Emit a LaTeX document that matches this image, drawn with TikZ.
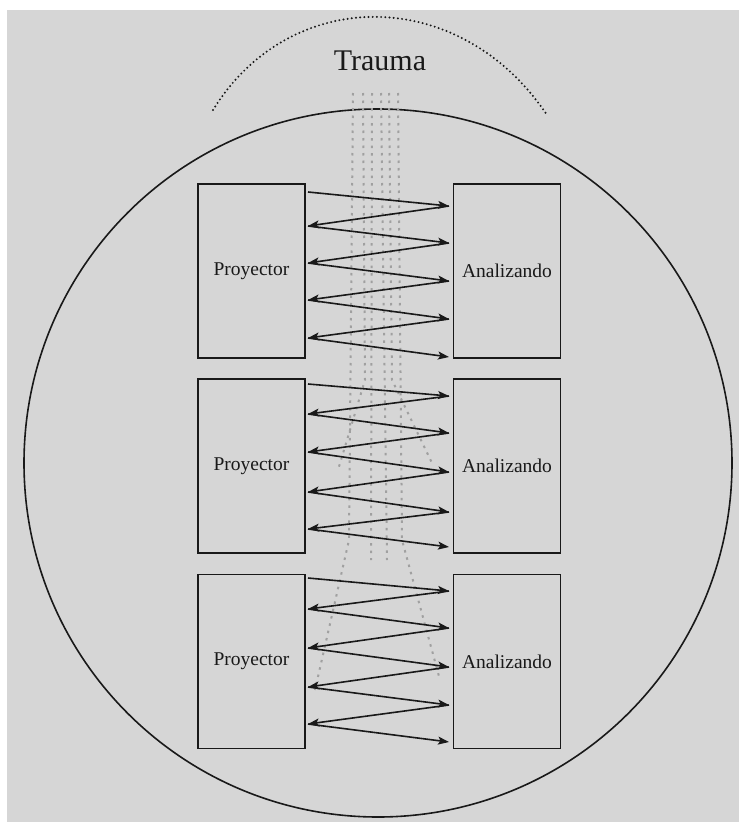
\documentclass[tikz,border=0pt]{standalone}
\usepackage{fontspec}
\setmainfont{Liberation Serif}
\usetikzlibrary{arrows.meta}
\definecolor{bggray}{RGB}{214,214,214}
\definecolor{raygray}{RGB}{160,160,160}
\definecolor{inkc}{RGB}{25,25,25}
\begin{document}
\begin{tikzpicture}[x=1pt,y=-1pt,
  box/.style={draw=inkc, line width=1.6pt, fill=bggray, minimum width=107pt,
    minimum height=174pt, inner sep=0pt, text=inkc, font=\fontsize{19.5}{21}\selectfont},
  zig/.style={draw=inkc, line width=1.6pt, -{Stealth[length=11pt,width=8pt,inset=2.5pt]}},
  ray/.style={raygray, line width=2pt, dash pattern=on 2.5pt off 5pt},
  dotarc/.style={inkc, line width=2.2pt, line cap=round, dash pattern=on 0pt off 4.2pt},
  ring/.style={draw=inkc, line width=1.6pt}]
\useasboundingbox (0,0) rectangle (739,822);
\fill[bggray] (7,10) rectangle (739,822);
% big circle
\draw[ring] (378,463) circle [x radius=354pt, y radius=354pt];
% dotted arc above
\coordinate (arcL) at (213,110);
\coordinate (arcR) at (547,115);
\draw[dotarc] (arcL) .. controls (290,-15) and (460,-15) .. (arcR);
\node[anchor=base, text=inkc, font=\fontsize{30}{32}\selectfont] (trauma) at (380,70) {Trauma};
% faint rays
\draw[ray] (353,93) -- (349,540) -- (315,690);
\draw[ray] (363,93) -- (365,380) -- (338,470);
\draw[ray] (372,93) -- (371,560);
\draw[ray] (381,93) -- (387,560);
\draw[ray] (389,93) -- (392,380) -- (433,465);
\draw[ray] (398,93) -- (402,540) -- (440,680);
% boxes
\node[box] (P1) at (251.5,271) {Proyector};
\node[box] (A1) at (507,271) {Analizando};
\node[box] (P2) at (251.5,466) {Proyector};
\node[box] (A2) at (507,466) {Analizando};
\node[box] (P3) at (251.5,661.5) {Proyector};
\node[box] (A3) at (507,661.5) {Analizando};
% zigzag arrows
\foreach \b/\ya/\yb/\yc/\yd/\ye/\za/\zb/\zc/\zd/\ze in
  {1/192/226/263/300/338/206/243/281/319/357,
   2/384/414/452/492/529/396/433/472/512/547,
   3/578/609/648/687/724/591/628/667/705/742}{
  \coordinate (L\b-1) at (308,\ya);
  \coordinate (L\b-2) at (308,\yb);
  \coordinate (L\b-3) at (308,\yc);
  \coordinate (L\b-4) at (308,\yd);
  \coordinate (L\b-5) at (308,\ye);
  \coordinate (R\b-1) at (449,\za);
  \coordinate (R\b-2) at (449,\zb);
  \coordinate (R\b-3) at (449,\zc);
  \coordinate (R\b-4) at (449,\zd);
  \coordinate (R\b-5) at (449,\ze);
  \draw[zig] (L\b-1) -- (R\b-1);
  \draw[zig] (R\b-1) -- (L\b-2);
  \draw[zig] (L\b-2) -- (R\b-2);
  \draw[zig] (R\b-2) -- (L\b-3);
  \draw[zig] (L\b-3) -- (R\b-3);
  \draw[zig] (R\b-3) -- (L\b-4);
  \draw[zig] (L\b-4) -- (R\b-4);
  \draw[zig] (R\b-4) -- (L\b-5);
  \draw[zig] (L\b-5) -- (R\b-5);
}
\end{tikzpicture}
\end{document}
